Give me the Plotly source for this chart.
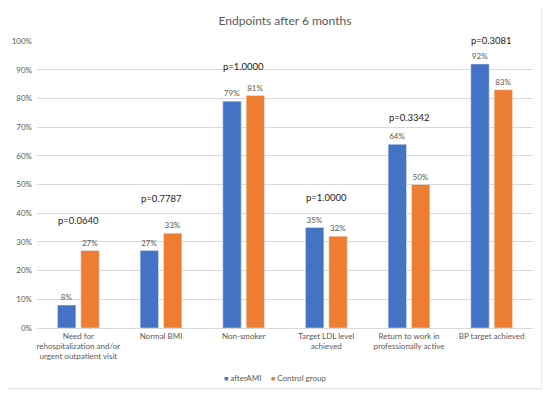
import plotly.graph_objects as go

categories = ["Need for<br>rehospitalization and/or<br>urgent outpatient visit", "Normal BMI", "Non-smoker",
              "Target LDL level<br>achieved", "Return to work in<br>professionally active", "BP target achieved"]
after_ami = [0.08, 0.27, 0.79, 0.35, 0.64, 0.92]
control = [0.27, 0.33, 0.81, 0.32, 0.50, 0.83]
p_labels = ["p=0.0640", "p=0.7787", "p=1.0000", "p=1.0000", "p=0.3342", "p=0.3081"]
p_heights = [0.376, 0.45, 0.91, 0.456, 0.735, 1.003]
series_names = ["afterAMI", "Control group"]
series_colors = ["#4472C4", "#ED7D31"]

font = "Lato"
gray = "#595959"

fig = go.Figure()
for name, vals, col in zip(series_names, [after_ami, control], series_colors):
    fig.add_bar(x=categories, y=vals, name=name, marker_color=col,
                texttemplate="%{y:.0%}", textposition="outside", cliponaxis=False,
                textfont=dict(size=8, color=gray, family=font))

for c, t, h in zip(categories, p_labels, p_heights):
    fig.add_annotation(x=c, y=h, text=t, showarrow=False, xref="x", yref="paper",
                       xanchor="center", yanchor="middle",
                       font=dict(size=9.5, color="#222222", family=font))

# legend (manual, small squares like the original)
leg_x = [0.372, 0.468]
for name, col, lx in zip(series_names, series_colors, leg_x):
    fig.add_annotation(x=lx, y=-0.174, xref="paper", yref="paper", xanchor="left", yanchor="middle",
                       showarrow=False,
                       text=f"<span style='color:{col};font-size:7px'>■</span> {name}",
                       font=dict(size=8, color=gray, family=font))

fig.add_shape(type="rect", xref="paper", yref="paper", x0=-0.0645, x1=1.018, y0=-0.212, y1=1.121,
              line=dict(color="#d9d9d9", width=1), layer="below")

fig.update_layout(
    width=550, height=395,
    margin=dict(l=29, r=25, t=33, b=75),
    paper_bgcolor="white", plot_bgcolor="white",
    title=dict(text="Endpoints after 6 months", x=0.5, xanchor="center", y=0.967, yanchor="middle",
               xref="paper", font=dict(size=12, color=gray, family=font)),
    barmode="group", bargap=0.435, bargroupgap=0.214,
    font=dict(family=font, size=8, color=gray),
    showlegend=False,
)
fig.update_yaxes(range=[0, 1], dtick=0.1, tickformat=".0%", showgrid=True, gridcolor="#d9d9d9",
                 zeroline=False, showline=False, ticks="", automargin=False, ticklabelstandoff=4,
                 tickfont=dict(size=8, color=gray))
fig.update_xaxes(showline=True, linecolor="#d9d9d9", ticks="", automargin=False,
                 tickfont=dict(size=8, color=gray), tickangle=0)

fig.write_html("out.html")
